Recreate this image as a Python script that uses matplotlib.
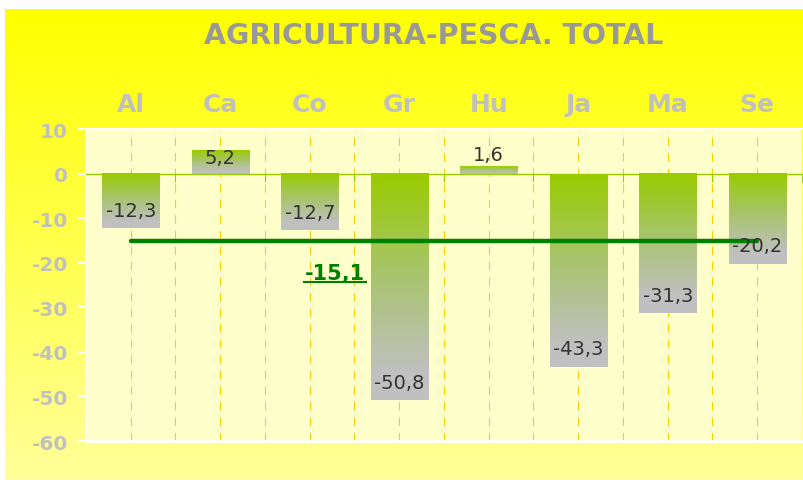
import numpy as np
import matplotlib
matplotlib.use('Agg')
import matplotlib.pyplot as plt
from matplotlib.colors import LinearSegmentedColormap
from matplotlib.lines import Line2D
from matplotlib.transforms import IdentityTransform

title = 'AGRICULTURA-PESCA. TOTAL'
categories = ['Al', 'Ca', 'Co', 'Gr', 'Hu', 'Ja', 'Ma', 'Se']
values = [-12.3, 5.2, -12.7, -50.8, 1.6, -43.3, -31.3, -20.2]
mean_value = -15.1
yticks = [10, 0, -10, -20, -30, -40, -50, -60]

fig = plt.figure(figsize=(8.04, 4.81), dpi=100)
fig.patch.set_facecolor('white')

# yellow background panel with vertical gradient
bg = fig.add_axes([5 / 804, 1 / 481, 799 / 804, 470 / 481], zorder=0)
bg_cmap = LinearSegmentedColormap.from_list('bg', ['#FFFF00', '#FFFF99'])
bg.imshow(np.linspace(0, 1, 256).reshape(-1, 1), cmap=bg_cmap, aspect='auto',
          extent=[0, 1, 0, 1])
bg.axis('off')

ax = fig.add_axes([86 / 804, 1 - 442 / 481, 716 / 804, 312 / 481], zorder=1)
ax.set_facecolor('#FFFFCC')

bar_cmap = LinearSegmentedColormap.from_list(
    'bar', [(0, '#99CC00'), (0.45, '#A8C46E'), (0.88, '#C0C0C0'), (1, '#C0C0C0')])
grad = np.linspace(0, 1, 256).reshape(-1, 1)
width = 0.64
x = np.arange(len(categories))
for i, v in zip(x, values):
    top, bottom = max(v, 0), min(v, 0)
    ax.imshow(grad, cmap=bar_cmap, aspect='auto', zorder=2,
              extent=[i - width / 2, i + width / 2, bottom, top])
    label = f'{v:.1f}'.replace('.', ',')
    if v < 0:
        ax.annotate(label, (i, v), xytext=(0, 6), textcoords='offset points',
                    ha='center', va='bottom', fontsize=14, color='#333333', zorder=5)
    elif v > 4:
        ax.annotate(label, (i, v), xytext=(0, 1.5), textcoords='offset points',
                    ha='center', va='top', fontsize=14, color='#333333', zorder=5)
    else:
        ax.annotate(label, (i, v), xytext=(0, 2), textcoords='offset points',
                    ha='center', va='bottom', fontsize=14, color='#333333', zorder=5)

# vertical dashed grid at centers and boundaries
for gx in np.arange(0, len(categories) - 0.25, 0.5):
    ax.axvline(gx, color='#FFCC00', lw=0.8, ls=(0, (7.5, 6.5)), zorder=1)

# average line
ax.plot([x[0], x[-1]], [mean_value, mean_value], color='#008000', lw=3.2,
        solid_capstyle='round', zorder=4)
mt = ax.text(2.28, -22.3, f'{mean_value:.1f}'.replace('.', ','), ha='center', va='center',
             fontsize=15, fontweight='bold', color='#008000', zorder=5)

ax.set_xlim(-0.5, len(categories) - 0.5)
ax.set_ylim(-60, 10)

# x axis through zero with ticks at boundaries
ax.spines['bottom'].set_position(('data', 0))
ax.spines['bottom'].set_color('#99CC00')
ax.spines['bottom'].set_linewidth(1)
ax.set_xticks(np.arange(-0.5, len(categories), 1))
ax.tick_params(axis='x', direction='out', length=6, color='#99CC00', labelbottom=False)
ax.axhline(-60, color='white', lw=2, clip_on=False, zorder=6)

for s in ['left', 'top']:
    ax.spines[s].set_color('white')
    ax.spines[s].set_linewidth(1.5)
ax.spines['right'].set_visible(False)

ax.set_yticks(yticks)
ax.set_yticklabels([str(t) for t in yticks])
ax.tick_params(axis='y', direction='out', length=6, color='white', width=1.5, pad=7,
               labelsize=14.5, labelcolor='#C0C0C0')
for t in ax.get_yticklabels():
    t.set_fontweight('bold')

top = ax.secondary_xaxis('top')
top.set_xticks(x)
top.set_xticklabels(categories, fontsize=18, fontweight='bold', color='#C0C0C0')
top.tick_params(length=0, pad=9)
top.spines['top'].set_visible(False)

fig.text(434 / 804, 1 - 36 / 481, title, ha='center', va='center', fontsize=20.5,
         fontweight='bold', color='#999999')

# underline the average label
fig.canvas.draw()
bb = mt.get_window_extent()
fig.add_artist(Line2D([bb.x0 - 1, bb.x1 + 1], [bb.y0 + 1, bb.y0 + 1], color='#008000', lw=1.5,
                      transform=IdentityTransform()))

fig.savefig('out.png', dpi=100)
